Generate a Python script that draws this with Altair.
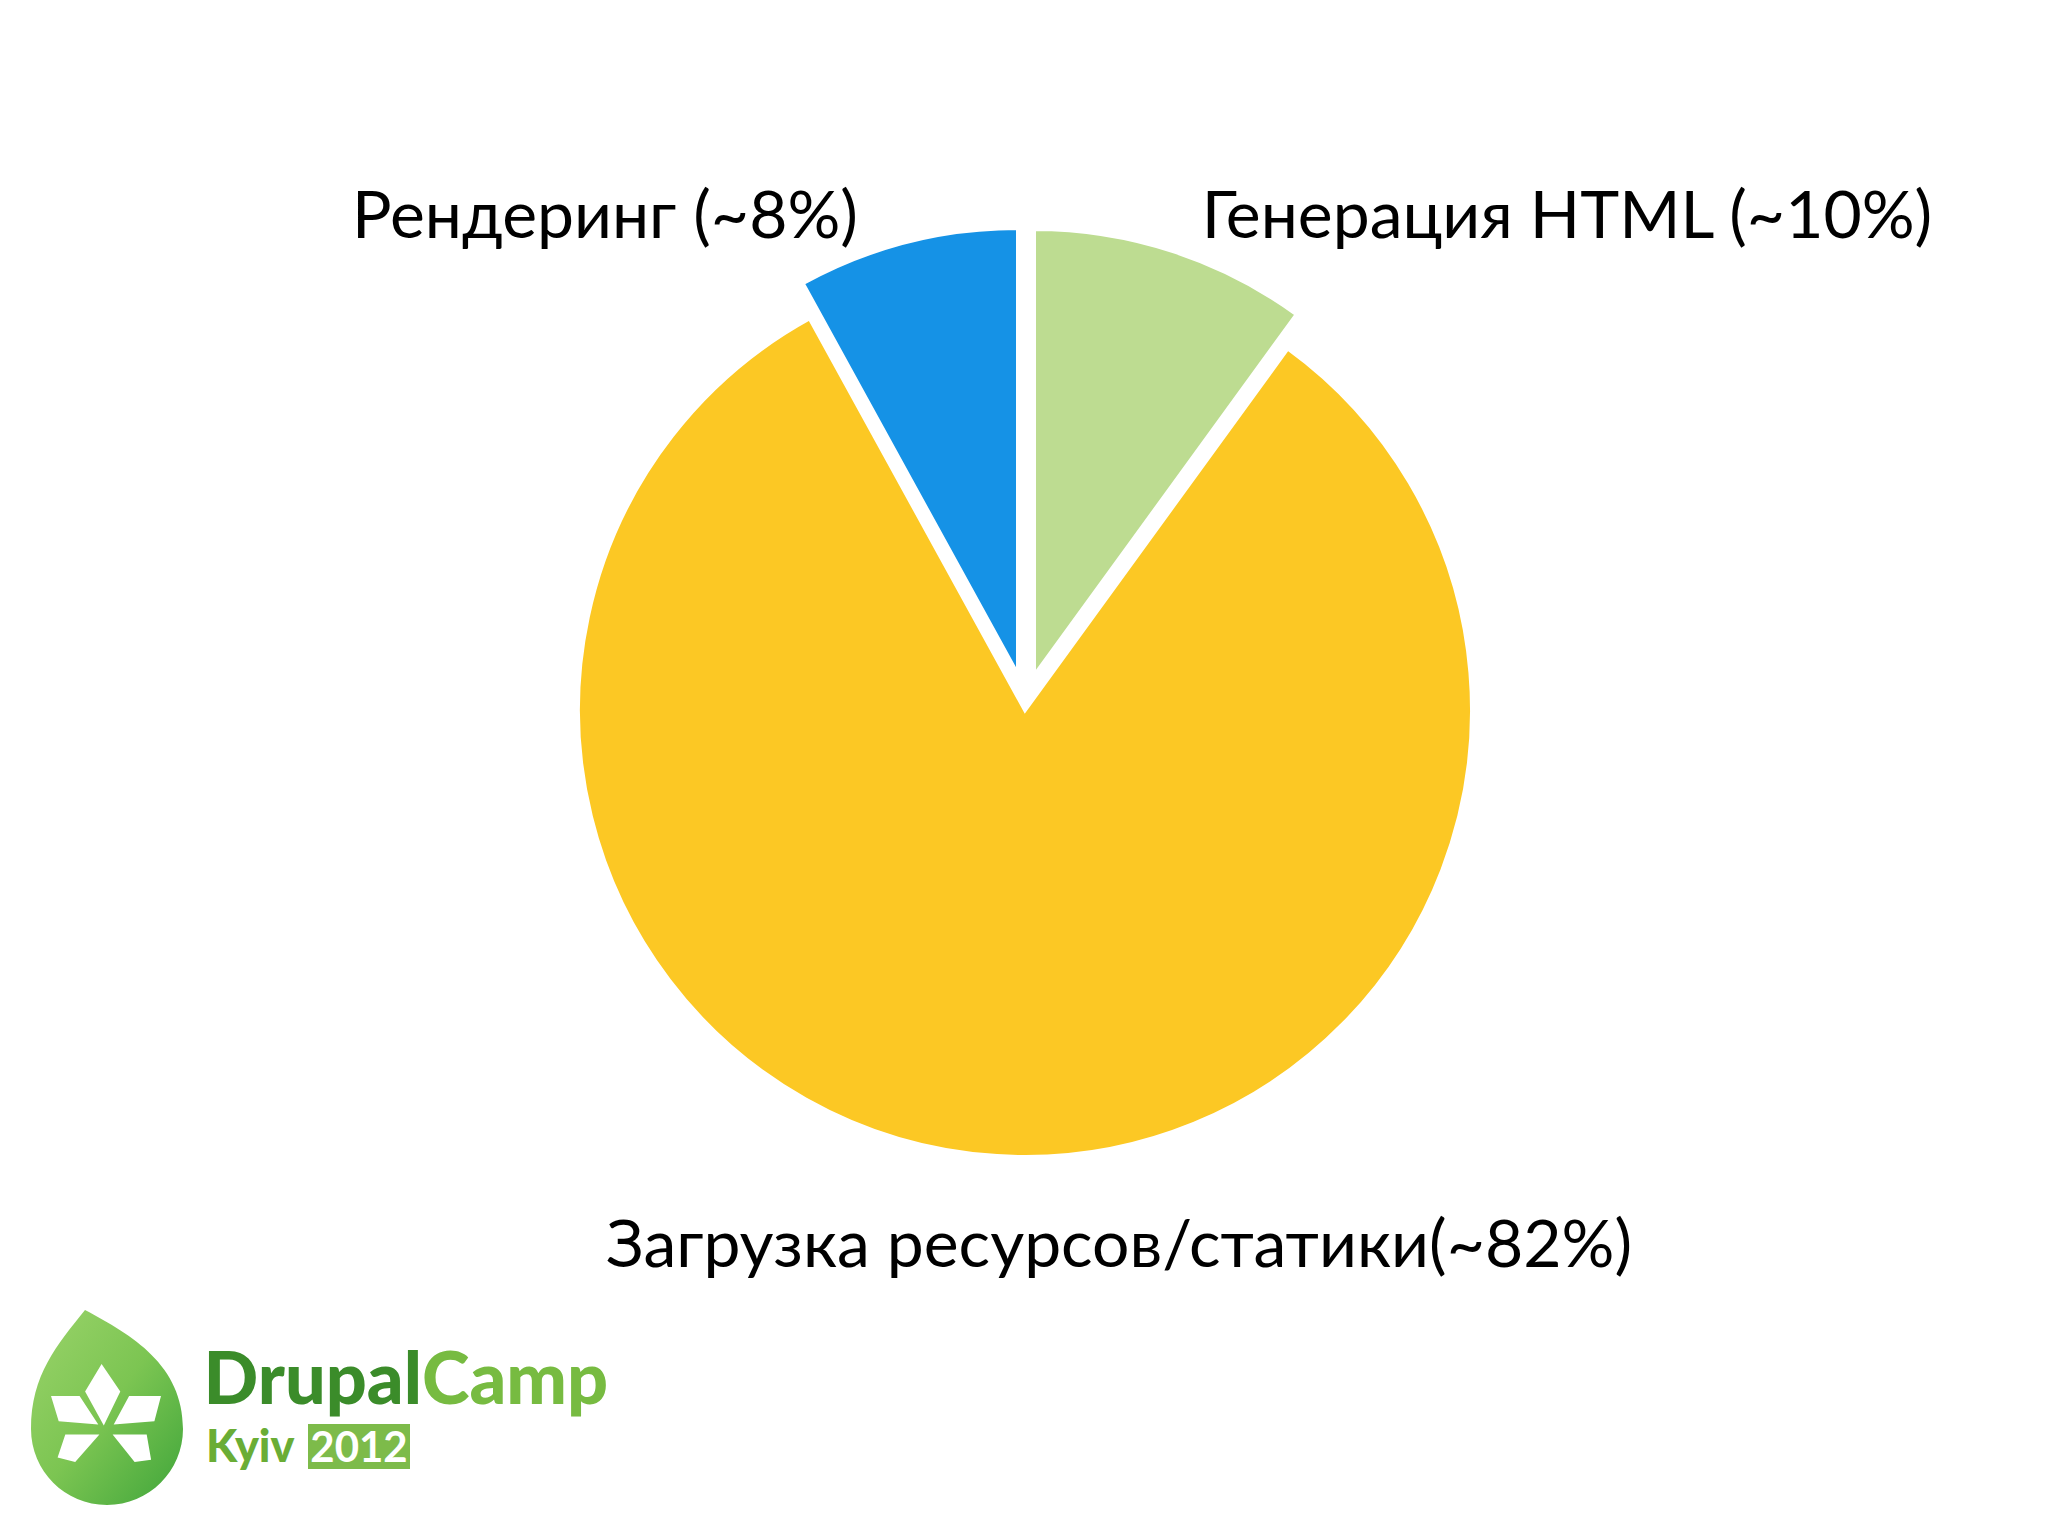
import altair as alt
import pandas as pd

# ---- data -------------------------------------------------------------
categories = ["Генерация HTML", "Загрузка ресурсов/статики", "Рендеринг"]
shares = [10, 82, 8]
labels = ["Генерация HTML (~10%)", "Загрузка ресурсов/статики(~82%)", "Рендеринг (~8%)"]
colors = ["#bddc91", "#fcc824", "#1592e6"]

df = pd.DataFrame({
    "order": list(range(len(categories))),
    "category": categories,
    "share": shares,
    "label": labels,
})

W, H = 2032, 1519
FONT = "Lato"

base = (
    alt.Chart(df)
    .transform_window(cum="sum(share)", sort=[alt.SortField("order")], frame=[None, 0])
    .transform_calculate(start="datum.cum - datum.share")
)

theta = alt.Theta("start:Q", scale=alt.Scale(domain=[0, 100]))
color = alt.Color("category:N", scale=alt.Scale(domain=categories, range=colors), legend=None)

# slice centres (exploded slices) -- layout only
centers = [(1026, 668), (1017, 702), (1010, 667)]
layers = []
for i, (cx, cy) in enumerate(centers):
    layers.append(
        base.transform_filter(f"datum.order == {i}")
        .mark_arc(x=cx, y=cy, outerRadius=447, stroke="white", strokeWidth=4)
        .encode(theta=theta, theta2="cum:Q", color=color)
    )

# labels
label_pos = [(1559, 230), (1111, 1259), (597, 230)]
for i, (lx, ly) in enumerate(label_pos):
    layers.append(
        base.transform_filter(f"datum.order == {i}")
        .mark_text(x=lx, y=ly, align="center", baseline="alphabetic",
                   font=FONT, fontSize=66, color="black")
        .encode(text="label:N")
    )

# ---- logo ---------------------------------------------------------------
one = alt.Data(values=[{"k": 1}])

DROP = ("M -0.22,-1.0 C 0.25,-0.75 0.76,-0.45 0.76,0.19 "
        "A 0.76 0.76 0 0 1 -0.76,0.19 "
        "C -0.76,-0.35 -0.5,-0.65 -0.22,-1.0 Z")
LEAF = ("M -0.2,-0.4 L 1.3,-3.5 L -0.4,-6.0 L -1.9,-3.5 Z "
        "M -0.7,-0.5 L -2.4,-3.1 L -5.0,-3.1 L -4.3,-0.8 Z "
        "M 0.7,-0.5 L 2.1,-3.1 L 5.0,-3.1 L 4.4,-0.8 Z "
        "M -0.6,0.4 L -3.7,0.4 L -4.4,2.5 L -2.8,2.9 Z "
        "M 0.6,0.4 L 3.7,0.4 L 4.1,2.7 L 2.6,2.9 Z")

grad = alt.LinearGradient(
    gradient="linear",
    stops=[alt.GradientStop(color="#9ad36a", offset=0),
           alt.GradientStop(color="#7cc552", offset=0.5),
           alt.GradientStop(color="#3fa53a", offset=1)],
    x1=0, x2=1, y1=0, y2=1,
)

drop = alt.Chart(one).mark_point(shape=DROP, size=40000, filled=True, color=grad,
                                 opacity=1, strokeWidth=0).encode(
    x=alt.value(99), y=alt.value(1402))
leaf = alt.Chart(one).mark_point(shape=LEAF, size=484, filled=True, color="white",
                                 opacity=1, strokeWidth=0).encode(
    x=alt.value(98), y=alt.value(1422))

t_drupal = alt.Chart(one).mark_text(text="Drupal", align="right", baseline="alphabetic",
                                    font=FONT, fontWeight=900, fontSize=72,
                                    color="#3b8c2a").encode(x=alt.value(414), y=alt.value(1396))
t_camp = alt.Chart(one).mark_text(text="Camp", align="left", baseline="alphabetic",
                                  font=FONT, fontWeight=900, fontSize=72,
                                  color="#77bb41").encode(x=alt.value(414), y=alt.value(1396))
t_kyiv = alt.Chart(one).mark_text(text="Kyiv", align="left", baseline="alphabetic",
                                  font=FONT, fontWeight=900, fontSize=45,
                                  color="#6aad35").encode(x=alt.value(198), y=alt.value(1454))
box = alt.Chart(one).mark_rect(color="#7dbb4a").encode(
    x=alt.value(300), x2=alt.value(402), y=alt.value(1416), y2=alt.value(1461))
t_2012 = alt.Chart(one).mark_text(text="2012", align="center", baseline="alphabetic",
                                  font=FONT, fontWeight="bold", fontSize=42,
                                  color="white").encode(x=alt.value(351), y=alt.value(1454))

layers += [drop, leaf, t_drupal, t_camp, t_kyiv, box, t_2012]

chart = (
    alt.layer(*layers)
    .properties(width=W, height=H, autosize="none", padding=0, background="white")
    .configure_view(stroke="transparent")
)

chart.save("out.html", embed_options={"renderer": "svg", "actions": False})
